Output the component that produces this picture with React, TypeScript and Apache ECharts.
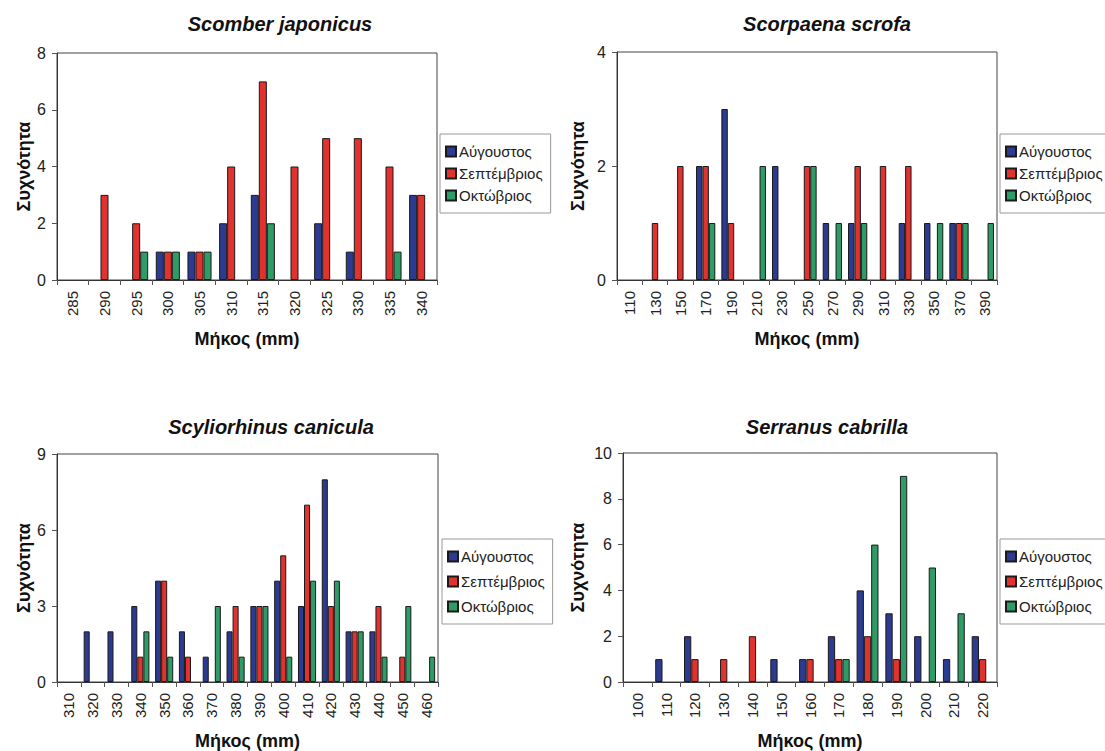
import React, { useEffect, useRef } from "react";
import * as echarts from "echarts";

const seriesNames = ["Αύγουστος", "Σεπτέμβριος", "Οκτώβριος"];
const titles = ["Scomber japonicus", "Scorpaena scrofa", "Scyliorhinus canicula", "Serranus cabrilla"];

const cat1 = ["285", "290", "295", "300", "305", "310", "315", "320", "325", "330", "335", "340"];
const aug1 = [0, 0, 0, 1, 1, 2, 3, 0, 2, 1, 0, 3];
const sep1 = [0, 3, 2, 1, 1, 4, 7, 4, 5, 5, 4, 3];
const oct1 = [0, 0, 1, 1, 1, 0, 2, 0, 0, 0, 1, 0];

const cat2 = ["110", "130", "150", "170", "190", "210", "230", "250", "270", "290", "310", "330", "350", "370", "390"];
const aug2 = [0, 0, 0, 2, 3, 0, 2, 0, 1, 1, 0, 1, 1, 1, 0];
const sep2 = [0, 1, 2, 2, 1, 0, 0, 2, 0, 2, 2, 2, 0, 1, 0];
const oct2 = [0, 0, 0, 1, 0, 2, 0, 2, 1, 1, 0, 0, 1, 1, 1];

const cat3 = ["310", "320", "330", "340", "350", "360", "370", "380", "390", "400", "410", "420", "430", "440", "450", "460"];
const aug3 = [0, 2, 2, 3, 4, 2, 1, 2, 3, 4, 3, 8, 2, 2, 0, 0];
const sep3 = [0, 0, 0, 1, 4, 1, 0, 3, 3, 5, 7, 3, 2, 3, 1, 0];
const oct3 = [0, 0, 0, 2, 1, 0, 3, 1, 3, 1, 4, 4, 2, 1, 3, 1];

const cat4 = ["100", "110", "120", "130", "140", "150", "160", "170", "180", "190", "200", "210", "220"];
const aug4 = [0, 1, 2, 0, 0, 1, 1, 2, 4, 3, 2, 1, 2];
const sep4 = [0, 0, 1, 1, 2, 0, 1, 1, 2, 1, 0, 0, 1];
const oct4 = [0, 0, 0, 0, 0, 0, 0, 1, 6, 9, 5, 3, 0];

const yMax = [8, 4, 9, 10];
const yInterval = [2, 2, 3, 2];

const colors = ["#2c3b8f", "#e0322e", "#2f9b66"];
const FONT = "'Liberation Sans', Arial, sans-serif";

export default function App() {
  const ref = useRef<HTMLDivElement>(null);
  useEffect(() => {
    if (!ref.current) return;
    const chart = echarts.init(ref.current, undefined, { renderer: "svg" });
    const cats = [cat1, cat2, cat3, cat4];
    const data = [
      [aug1, sep1, oct1],
      [aug2, sep2, oct2],
      [aug3, sep3, oct3],
      [aug4, sep4, oct4],
    ];
    const grids = [
      { left: 57, top: 53, width: 380, height: 227 },
      { left: 617, top: 52, width: 380, height: 228 },
      { left: 57, top: 454, width: 381, height: 231 },
      { left: 623, top: 453, width: 374, height: 232 },
    ];
    const titlePos = [
      { x: 275, y: 9 },
      { x: 822, y: 9 },
      { x: 266, y: 412 },
      { x: 822, y: 412 },
    ];
    const legendPos = [
      { left: 440, top: 134, gap: 7 },
      { left: 1000, top: 134, gap: 7 },
      { left: 442, top: 539, gap: 10 },
      { left: 1000, top: 539, gap: 10 },
    ];
    const yNameGap = [21, 30, 21, 36];

    const series: any[] = [];
    data.forEach((grp, gi) => {
      grp.forEach((vals, si) => {
        series.push({
          type: "bar",
          name: seriesNames[si],
          xAxisIndex: gi,
          yAxisIndex: gi,
          data: vals.map((v) => (v === 0 ? "-" : v)),
          barGap: "0%",
          barCategoryGap: "24%",
          itemStyle: { color: colors[si], borderColor: "#1a1a1a", borderWidth: 1 },
        });
      });
    });

    chart.setOption({
      animation: false,
      textStyle: { fontFamily: FONT },
      title: titles.map((t, i) => ({
        text: t,
        left: titlePos[i].x,
        top: titlePos[i].y,
        textAlign: "center",
        textStyle: { fontFamily: FONT, fontSize: 20, fontWeight: "bold", fontStyle: "italic", color: "#111" },
      })),
      legend: legendPos.map((l) => ({
        orient: "vertical",
        left: l.left,
        top: l.top,
        data: seriesNames,
        icon: "rect",
        itemWidth: 10,
        itemHeight: 10,
        itemGap: l.gap,
        padding: [10, 8, 10, 5],
        borderColor: "#999",
        borderWidth: 1,
        selectedMode: false,
        textStyle: { fontFamily: FONT, fontSize: 15, color: "#222", lineHeight: 15, padding: [0, 0, 0, -2] },
      })),
      grid: grids.map((g) => ({ ...g, show: true, borderColor: "#444", borderWidth: 1, containLabel: false })),
      xAxis: cats.map((c, i) => ({
        type: "category",
        gridIndex: i,
        data: c,
        name: "Μήκος (mm)",
        nameLocation: "middle",
        nameGap: 50,
        nameTextStyle: { fontFamily: FONT, fontSize: 18, fontWeight: "bold", color: "#111", verticalAlign: "top" },
        axisLine: { lineStyle: { color: "#333", width: 1 } },
        axisTick: { show: true, length: 5, lineStyle: { color: "#555" } },
        axisLabel: { rotate: 90, interval: 0, fontSize: 15, color: "#222", margin: 11, fontFamily: FONT },
        splitLine: { show: false },
      })),
      yAxis: yMax.map((m, i) => ({
        type: "value",
        gridIndex: i,
        min: 0,
        max: m,
        interval: yInterval[i],
        name: "Συχνότητα",
        nameLocation: "middle",
        nameGap: yNameGap[i],
        nameTextStyle: { fontFamily: FONT, fontSize: 18, fontWeight: "bold", color: "#111" },
        axisLine: { show: true, lineStyle: { color: "#333", width: 1 } },
        axisTick: { show: true, length: 5, lineStyle: { color: "#555" } },
        axisLabel: { fontSize: 16, color: "#222", margin: 11, fontFamily: FONT },
        splitLine: { show: false },
      })),
      series,
    });
    return () => chart.dispose();
  }, []);
  return (
    <div
      ref={ref}
      style={{ position: "fixed", left: 0, top: 0, width: 1105, height: 751, background: "#fff" }}
    />
  );
}
